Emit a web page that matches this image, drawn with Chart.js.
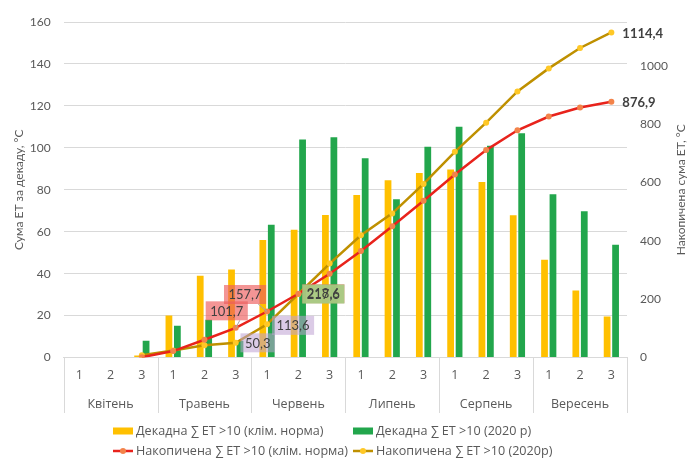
<!DOCTYPE html>
<html>
<head>
<meta charset="utf-8">
<script src="https://cdn.jsdelivr.net/npm/chart.js@4.4.1/dist/chart.umd.min.js"></script>
<style>
  html, body { margin: 0; padding: 0; background: #ffffff; }
  #wrap { width: 689px; height: 459px; position: relative; }
</style>
</head>
<body>
<div id="wrap"><canvas id="chart"></canvas></div>
<script>
// Months and decades of the growing season
const months = ['Квітень', 'Травень', 'Червень', 'Липень', 'Серпень', 'Вересень'];
const decades = ['1', '2', '3'];

// Decade sums of effective temperatures > 10 °C
const normDecade = [null, null, 1, 20, 39, 42, 56, 60.9, 68, 77.5, 84.5, 88, 89.7, 83.7, 67.8, 46.6, 31.9, 19.6];
const decade2020 = [null, null, 8, 15.2, 18, 8, 63.3, 104, 105, 95, 75.5, 100.5, 110, 101, 107, 77.8, 69.7, 53.8];

// Accumulated sums of effective temperatures > 10 °C
const normCumulative = [null, null, 1, 22, 61, 101.7, 157.7, 218.6, 287, 365, 450, 537, 627, 711, 779, 826, 857, 876.9];
const cumulative2020 = [null, null, 8, 24, 42, 50.3, 113.6, 217.6, 322, 419, 494, 595, 705, 805, 912, 991, 1061, 1114.4];

// Axis ranges
const leftMax = 160, leftStep = 20;
const rightMax = 1150, rightStep = 200;

const seriesNames = [
  'Декадна ∑ ЕТ >10 (клім. норма)',
  'Декадна ∑ ЕТ >10 (2020 р)',
  'Накопичена ∑ ЕТ >10 (клім. норма)',
  'Накопичена ∑ ЕТ >10 (2020р)'
];

const COLORS = {
  yellow: '#FFC000',
  green: '#22A64C',
  red: '#E8231C',
  redPoint: '#F3834A',
  gold: '#BF9000',
  goldPoint: '#FFC826',
  text: '#595959',
  grid: '#d9d9d9'
};
const FONT = 'Lato, "Open Sans", "DejaVu Sans", sans-serif';
const CAT_FONT = '"Open Sans", Lato, "DejaVu Sans", sans-serif';

const fmt = v => v.toFixed(1).replace('.', ',');

// Boxed value labels on the accumulated lines (dataset index, point index, offset, fill)
const boxedLabels = [
  { ds: 2, i: 7, dx: 25, dy: 0, fill: 'rgba(236,92,92,0.65)' },
  { ds: 3, i: 7, dx: 25, dy: 0, fill: 'rgba(163,206,130,0.9)' },
  { ds: 2, i: 5, dx: -9, dy: -17, fill: 'rgba(236,92,92,0.65)', leader: true },
  { ds: 2, i: 6, dx: -22, dy: -17, fill: 'rgba(236,92,92,0.65)', leader: true },
  { ds: 3, i: 5, dx: 22, dy: 0, fill: 'rgba(190,160,210,0.55)' },
  { ds: 3, i: 6, dx: 26, dy: 1, fill: 'rgba(190,160,210,0.55)' }
];

const valueLabels = {
  id: 'valueLabels',
  afterDatasetsDraw(chart) {
    const ctx = chart.ctx;
    ctx.save();
    ctx.font = '13px ' + FONT;
    ctx.textAlign = 'center';
    ctx.textBaseline = 'middle';
    const items = boxedLabels.map(l => {
      const pt = chart.getDatasetMeta(l.ds).data[l.i];
      const val = chart.data.datasets[l.ds].data[l.i];
      const text = fmt(val);
      const w = ctx.measureText(text).width + 9;
      const h = 19;
      return { l, pt, text, cx: pt.x + l.dx, cy: pt.y + l.dy, w, h };
    });
    // boxes and leader lines
    items.forEach(it => {
      if (it.l.leader) {
        ctx.strokeStyle = '#a6a6a6';
        ctx.lineWidth = 1;
        ctx.beginPath();
        ctx.moveTo(it.cx + it.w / 2 - 8, it.cy + it.h / 2);
        ctx.lineTo(it.pt.x, it.pt.y);
        ctx.stroke();
      }
      ctx.fillStyle = it.l.fill;
      ctx.fillRect(it.cx - it.w / 2, it.cy - it.h / 2, it.w, it.h);
    });
    // texts
    ctx.fillStyle = '#404040';
    items.forEach(it => ctx.fillText(it.text, it.cx, it.cy + 0.5));

    // end values of the accumulated lines
    ctx.font = 'bold 13px ' + FONT;
    ctx.textAlign = 'left';
    [2, 3].forEach(ds => {
      const data = chart.data.datasets[ds].data;
      const last = data.length - 1;
      const pt = chart.getDatasetMeta(ds).data[last];
      ctx.fillText(fmt(data[last]), pt.x + 11, pt.y + 1);
    });
    ctx.restore();
  }
};

// Month separators of the two-level category axis
const monthSeparators = {
  id: 'monthSeparators',
  afterDraw(chart) {
    const x = chart.scales.x, x2 = chart.scales.x2, ctx = chart.ctx;
    const { left, right, bottom } = chart.chartArea;
    ctx.save();
    ctx.strokeStyle = COLORS.grid;
    ctx.lineWidth = 1;
    for (let m = 0; m <= months.length; m++) {
      let px;
      if (m === 0) px = left;
      else if (m === months.length) px = right;
      else px = (x.getPixelForValue(m * decades.length - 1) + x.getPixelForValue(m * decades.length)) / 2;
      px = Math.round(px) + 0.5;
      ctx.beginPath();
      ctx.moveTo(px, bottom);
      ctx.lineTo(px, x2.bottom + 1);
      ctx.stroke();
    }
    ctx.restore();
  }
};

// Right axis title, reading bottom to top
const rightTitle = {
  id: 'rightTitle',
  afterDraw(chart) {
    const ctx = chart.ctx;
    const { top, bottom } = chart.chartArea;
    ctx.save();
    ctx.translate(chart.width - 8, (top + bottom) / 2);
    ctx.rotate(-Math.PI / 2);
    ctx.font = '12px ' + FONT;
    ctx.fillStyle = COLORS.text;
    ctx.textAlign = 'center';
    ctx.textBaseline = 'middle';
    ctx.fillText('Накопичена сума ЕТ, °С', 0, 0);
    ctx.restore();
  }
};

// Two-column legend under the axis
const legendGrid = {
  id: 'legendGrid',
  afterDraw(chart) {
    const ctx = chart.ctx;
    const cols = [113, 353];
    const rows = [431, 451];
    ctx.save();
    ctx.font = '12.6px ' + CAT_FONT;
    ctx.textBaseline = 'middle';
    ctx.textAlign = 'left';
    chart.data.datasets.forEach((d, k) => {
      const x = cols[k % 2], y = rows[Math.floor(k / 2)];
      if (d.type === 'line') {
        ctx.strokeStyle = d.borderColor;
        ctx.lineWidth = 2.5;
        ctx.beginPath();
        ctx.moveTo(x, y);
        ctx.lineTo(x + 20, y);
        ctx.stroke();
        ctx.fillStyle = d.pointBackgroundColor;
        ctx.beginPath();
        ctx.arc(x + 10, y, 3, 0, Math.PI * 2);
        ctx.fill();
      } else {
        ctx.fillStyle = d.backgroundColor;
        ctx.fillRect(x, y - 3.5, 20, 7);
      }
      ctx.fillStyle = COLORS.text;
      ctx.fillText(d.label, x + 23, y);
    });
    ctx.restore();
  }
};

const labels = months.flatMap(() => decades);

new Chart(document.getElementById('chart'), {
  type: 'bar',
  data: {
    labels: labels,
    datasets: [
      { type: 'bar', label: seriesNames[0], data: normDecade, backgroundColor: COLORS.yellow, yAxisID: 'y', order: 2,
        barPercentage: 0.8, categoryPercentage: 0.54 },
      { type: 'bar', label: seriesNames[1], data: decade2020, backgroundColor: COLORS.green, yAxisID: 'y', order: 2,
        barPercentage: 0.8, categoryPercentage: 0.54 },
      { type: 'line', label: seriesNames[2], data: normCumulative, yAxisID: 'y1', order: 0,
        borderColor: COLORS.red, borderWidth: 2.5, tension: 0,
        pointRadius: 3, pointBackgroundColor: COLORS.redPoint, pointBorderWidth: 0 },
      { type: 'line', label: seriesNames[3], data: cumulative2020, yAxisID: 'y1', order: 1,
        borderColor: COLORS.gold, borderWidth: 2.5, tension: 0,
        pointRadius: 3, pointBackgroundColor: COLORS.goldPoint, pointBorderWidth: 0 }
    ]
  },
  options: {
    responsive: true,
    maintainAspectRatio: false,
    animation: false,
    layout: { padding: { left: 8, right: 0, top: 22, bottom: 47 } },
    plugins: {
      legend: { display: false },
      tooltip: { enabled: false }
    },
    scales: {
      x: {
        weight: 0,
        grid: { display: false, drawTicks: false },
        border: { display: true, color: COLORS.grid },
        afterFit: s => { s.height = 25.5; },
        ticks: { color: COLORS.text, font: { family: CAT_FONT, size: 12.5 }, padding: 10, autoSkip: false, maxRotation: 0 }
      },
      x2: {
        type: 'category',
        position: 'bottom',
        weight: 1,
        labels: months,
        offset: true,
        grid: { display: false, drawTicks: false },
        border: { display: false },
        afterFit: s => { s.height = 29; },
        ticks: { color: COLORS.text, font: { family: CAT_FONT, size: 12.5 }, padding: 14, autoSkip: false, maxRotation: 0 }
      },
      y: {
        position: 'left',
        min: 0,
        max: leftMax,
        grid: { color: COLORS.grid, drawTicks: false },
        border: { display: false },
        afterFit: s => { s.width = 55.6; },
        ticks: { stepSize: leftStep, color: COLORS.text, font: { family: FONT, size: 12 }, padding: 13 },
        title: { display: true, text: 'Сума ЕТ за декаду, °С', color: COLORS.text, font: { family: FONT, size: 12 } }
      },
      y1: {
        position: 'right',
        min: 0,
        max: rightMax,
        grid: { display: false, drawOnChartArea: false, drawTicks: false },
        border: { display: false },
        afterFit: s => { s.width = 62; },
        afterBuildTicks: s => { s.ticks = s.ticks.filter(t => t.value % rightStep === 0); },
        ticks: { stepSize: rightStep, color: COLORS.text, font: { family: FONT, size: 12 }, padding: 13,
                 callback: v => String(v) }
      }
    }
  },
  plugins: [monthSeparators, valueLabels, rightTitle, legendGrid]
});
</script>
</body>
</html>
